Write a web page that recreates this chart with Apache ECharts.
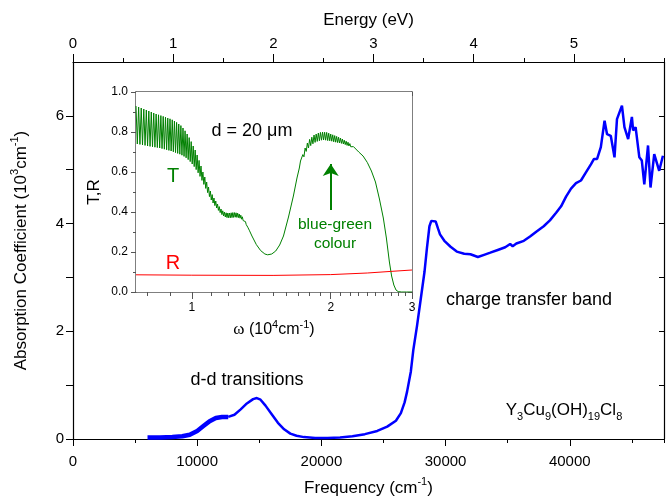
<!DOCTYPE html>
<html>
<head>
<meta charset="utf-8">
<script src="https://cdn.jsdelivr.net/npm/echarts@6.0.0/dist/echarts.min.js"></script>
<style>
html, body { margin: 0; padding: 0; background: #fff; }
#chart { width: 670px; height: 499px; }
</style>
</head>
<body>
<div id="chart"></div>
<script>
// absorption coefficient: [frequency (cm-1), alpha (10^3 cm-1)]
var absorption = [
	[6000, 0.03], [7000, 0.03], [8000, 0.035], [8800, 0.05], [9400, 0.08], [10000, 0.15],
	[10500, 0.24], [11000, 0.33], [11500, 0.39], [12000, 0.41], [12500, 0.41], [13000, 0.45],
	[13500, 0.55], [14000, 0.66], [14500, 0.74], [14800, 0.76], [15100, 0.73], [15500, 0.62],
	[16000, 0.46], [16500, 0.30], [17000, 0.18], [17500, 0.10], [18000, 0.06], [18600, 0.035],
	[19500, 0.02], [20500, 0.02], [21500, 0.03], [22500, 0.05], [23500, 0.09], [24500, 0.15],
	[25300, 0.23], [26000, 0.34], [26400, 0.48], [26700, 0.68], [26900, 0.88], [27200, 1.25],
	[27400, 1.65], [27700, 2.1], [28000, 2.6], [28300, 3.1], [28500, 3.55], [28700, 3.95],
	[28850, 4.05], [29000, 4.07], [29200, 4.04], [29400, 3.9], [29550, 3.8], [29900, 3.68],
	[30400, 3.57], [30900, 3.48], [31500, 3.44], [32000, 3.43], [32600, 3.38], [33100, 3.42],
	[33600, 3.46], [34200, 3.51], [34800, 3.56], [35200, 3.62], [35400, 3.58], [35700, 3.63],
	[36300, 3.68], [36800, 3.76], [37300, 3.85], [37900, 3.95], [38400, 4.06], [38900, 4.2],
	[39300, 4.32], [39700, 4.5], [40100, 4.65], [40500, 4.75], [40900, 4.8], [41300, 4.95],
	[41700, 5.1], [41950, 5.2], [42200, 5.2], [42500, 5.42], [42800, 5.91], [43000, 5.66],
	[43300, 5.63], [43600, 5.23], [43800, 5.94], [44200, 6.19], [44400, 5.79], [44700, 5.57],
	[45000, 5.98], [45100, 5.73], [45300, 5.79], [45600, 5.23], [45800, 5.17], [46000, 4.73],
	[46300, 5.45], [46500, 4.67], [46800, 5.29], [47200, 4.98], [47500, 5.26]
];
var thickUntil = 12500; // noisy low-frequency part drawn thicker

// inset transmission T: [omega (10^4 cm-1), T]
var transmission = [
	[0.757, .93], [0.762, .74], [0.767, .925], [0.772, .738], [0.777, .92], [0.782, .735],
	[0.787, .915], [0.792, .733], [0.797, .91], [0.802, .73], [0.807, .905], [0.812, .728],
	[0.817, .90], [0.822, .726], [0.827, .895], [0.832, .724], [0.837, .89], [0.842, .722],
	[0.847, .886], [0.852, .72], [0.857, .882], [0.862, .717], [0.867, .878], [0.872, .714],
	[0.877, .874], [0.882, .711], [0.887, .87], [0.892, .708], [0.897, .866], [0.902, .705],
	[0.907, .861], [0.912, .701], [0.917, .855], [0.922, .697], [0.927, .848], [0.932, .693],
	[0.937, .84], [0.942, .689], [0.947, .832], [0.952, .684], [0.957, .82], [0.962, .678],
	[0.967, .806], [0.972, .671], [0.977, .79], [0.982, .662], [0.987, .772], [0.992, .652],
	[0.997, .752], [1.002, .64], [1.007, .73], [1.012, .627], [1.017, .71], [1.022, .612],
	[1.027, .685], [1.032, .596], [1.037, .658], [1.042, .578], [1.047, .63], [1.052, .558],
	[1.057, .60], [1.062, .538], [1.067, .575], [1.072, .518], [1.077, .55], [1.082, .497],
	[1.087, .525], [1.092, .477], [1.097, .505], [1.102, .46], [1.107, .487], [1.112, .445],
	[1.117, .47], [1.122, .432], [1.127, .455], [1.132, .42], [1.137, .44], [1.142, .408],
	[1.147, .427], [1.152, .397], [1.157, .415], [1.162, .387], [1.167, .406], [1.172, .38],
	[1.177, .40], [1.182, .375], [1.187, .396], [1.192, .372], [1.197, .395], [1.202, .371],
	[1.207, .395], [1.212, .371], [1.217, .396], [1.222, .372], [1.227, .397], [1.232, .373],
	[1.237, .397], [1.242, .374], [1.247, .396], [1.252, .373], [1.257, .394], [1.262, .372],
	[1.267, .39], [1.272, .369], [1.277, .384], [1.282, .364], [1.287, .376], [1.292, .357],
	[1.297, .365], [1.302, .348], [1.307, .352], [1.312, .337], [1.317, .337], [1.322, .324],
	[1.327, .32], [1.332, .309],
	[1.35, .28], [1.38, .237], [1.41, .207], [1.44, .19], [1.46, .186], [1.49, .19],
	[1.52, .205], [1.55, .235], [1.58, .28], [1.62, .375], [1.66, .48], [1.69, .57], [1.71, .62],
	[1.72, .655], [1.73, .649], [1.74, .687], [1.75, .676], [1.76, .72], [1.77, .703],
	[1.78, .745], [1.79, .72], [1.80, .763], [1.81, .732], [1.82, .774], [1.83, .741],
	[1.84, .785], [1.85, .748], [1.86, .79], [1.87, .753], [1.88, .795], [1.89, .756],
	[1.90, .798], [1.91, .759], [1.92, .80], [1.93, .76], [1.94, .799], [1.95, .759],
	[1.96, .798], [1.97, .757], [1.98, .794], [1.99, .756], [2.00, .79], [2.01, .754],
	[2.02, .786], [2.03, .751], [2.04, .782], [2.05, .749], [2.06, .778], [2.07, .747],
	[2.08, .774], [2.09, .745], [2.10, .77], [2.11, .743], [2.12, .765], [2.13, .74],
	[2.14, .759], [2.15, .737], [2.16, .754], [2.17, .733], [2.18, .749], [2.19, .73],
	[2.20, .742], [2.21, .726], [2.22, .735], [2.23, .722], [2.24, .727], [2.25, .72],
	[2.30, .70], [2.35, .68], [2.40, .648], [2.45, .605], [2.50, .55], [2.55, .465],
	[2.60, .37], [2.64, .27], [2.68, .15], [2.71, .08], [2.74, .035], [2.77, .01],
	[2.80, .002], [2.85, 0], [2.92, 0], [3.0, 0]
];

// inset reflection R: [omega (10^4 cm-1), R]
var reflection = [
	[0.757, .086], [1.0, .084], [1.5, .083], [2.0, .087], [2.4, .095], [2.7, .103], [3.0, .11]
];

var freqMax = 47586;   // 5.9 eV
var energyMax = 5.9;
var omegaMin = 0.757;
var omegaMax = 3;
var insetMajorTicks = [1, 2, 3];
var insetMinorTicks = [0.8, 0.9, 1, 1.1, 1.2, 1.3, 1.4, 1.5, 1.6, 1.7, 1.8, 1.9, 2,
	2.1, 2.2, 2.3, 2.4, 2.5, 2.6, 2.7, 2.8, 2.9, 3];

var FONT = '"Liberation Sans", Arial, sans-serif';
var BLACK = '#000';
var INSET = '#555';

var supRich = {
	sup: { fontSize: 11, lineHeight: 12, verticalAlign: 'top', fontFamily: FONT, color: BLACK },
	sub: { fontSize: 11, lineHeight: 15, verticalAlign: 'bottom', fontFamily: FONT, color: BLACK },
	w: { fontSize: 17, lineHeight: 22, fontFamily: '"Liberation Serif", serif', color: BLACK }
};

function lg(v) { return Math.log(v) / Math.LN10; }

function mainLine(color) {
	return { show: true, onZero: false, lineStyle: { color: color, width: 1.2 } };
}

function plain(v) { return String(v); }

var chart = echarts.init(document.getElementById('chart'), null, { renderer: 'canvas' });

var option = {
	backgroundColor: '#fff',
	animation: false,
	textStyle: { fontFamily: FONT },
	grid: [
		{ left: 73, right: 6, top: 62, bottom: 60, containLabel: false, outerBoundsMode: 'none' },
		{
			left: 136, width: 276, top: 92, height: 200, containLabel: false, outerBoundsMode: 'none',
			show: true, backgroundColor: '#fff', borderWidth: 0, z: 5
		}
	],
	xAxis: [
		{
			gridIndex: 0, type: 'value', position: 'bottom', min: 0, max: freqMax, interval: 10000,
			axisLine: mainLine(BLACK),
			axisTick: { length: 7, lineStyle: { color: BLACK } },
			axisLabel: { margin: 15, fontSize: 15, color: BLACK, showMaxLabel: false, formatter: plain },
			splitLine: { show: false },
			name: 'Frequency (cm{sup|-1})', nameLocation: 'middle', nameGap: 37,
			nameTextStyle: { fontSize: 17, color: BLACK, lineHeight: 24, rich: supRich }
		},
		{
			gridIndex: 0, type: 'value', position: 'bottom', min: 0, max: freqMax, interval: 5000,
			axisLine: { show: false, onZero: false },
			axisTick: { length: 4, lineStyle: { color: BLACK } },
			axisLabel: { show: false }, splitLine: { show: false }
		},
		{
			gridIndex: 0, type: 'value', position: 'top', min: 0, max: energyMax, interval: 1,
			axisLine: mainLine(BLACK),
			axisTick: { length: 8, lineStyle: { color: BLACK } },
			axisLabel: { margin: 11, fontSize: 15, color: BLACK, showMaxLabel: false, formatter: plain },
			splitLine: { show: false },
			name: 'Energy (eV)', nameLocation: 'middle', nameGap: 33,
			nameTextStyle: { fontSize: 17, color: BLACK }
		},
		{
			gridIndex: 0, type: 'value', position: 'top', min: 0, max: energyMax, interval: 0.5,
			axisLine: { show: false, onZero: false },
			axisTick: { length: 4, lineStyle: { color: BLACK } },
			axisLabel: { show: false }, splitLine: { show: false }
		},
		{
			gridIndex: 1, type: 'log', min: omegaMin, max: omegaMax, show: false,
			axisLine: { onZero: false }, splitLine: { show: false }
		},
		{
			gridIndex: 1, type: 'value', position: 'bottom', min: lg(omegaMin), max: lg(omegaMax),
			axisLine: { show: true, onZero: false, lineStyle: { color: INSET, width: 1.5 } },
			axisTick: { length: 4, customValues: insetMinorTicks.map(lg), lineStyle: { color: INSET } },
			axisLabel: {
				margin: 10, fontSize: 12, color: BLACK, customValues: insetMajorTicks.map(lg),
				formatter: function (v) { return String(Math.round(Math.pow(10, v))); }
			},
			splitLine: { show: false },
			name: '{w|ω} (10{sup|4}cm{sup|-1})', nameLocation: 'middle', nameGap: 27,
			nameTextStyle: { fontSize: 16, color: BLACK, lineHeight: 22, rich: supRich }
		},
		{
			gridIndex: 1, type: 'value', position: 'bottom', min: lg(omegaMin), max: lg(omegaMax),
			axisLine: { show: false, onZero: false },
			axisTick: { length: 7, customValues: insetMajorTicks.map(lg), lineStyle: { color: INSET } },
			axisLabel: { show: false }, splitLine: { show: false }
		},
		{
			gridIndex: 1, type: 'value', position: 'top', min: lg(omegaMin), max: lg(omegaMax),
			axisLine: { show: true, onZero: false, lineStyle: { color: INSET, width: 1.5 } },
			axisTick: { inside: true, length: 4, customValues: insetMinorTicks.map(lg), lineStyle: { color: INSET } },
			axisLabel: { show: false }, splitLine: { show: false }
		}
	],
	yAxis: [
		{
			gridIndex: 0, type: 'value', position: 'left', min: 0, max: 7, interval: 1,
			axisLine: mainLine(BLACK),
			axisTick: { length: 7, lineStyle: { color: BLACK } },
			axisLabel: {
				margin: 9, fontSize: 15, color: BLACK, showMaxLabel: false,
				formatter: function (v) { return v % 2 === 0 ? String(v) : ''; }
			},
			splitLine: { show: false },
			name: 'Absorption Coefficient (10{sup|3}cm{sup|-1})', nameLocation: 'middle', nameGap: 40,
			nameTextStyle: { fontSize: 17, color: BLACK, lineHeight: 24, rich: supRich }
		},
		{
			gridIndex: 0, type: 'value', position: 'right', min: 0, max: 7, interval: 1,
			axisLine: mainLine(BLACK),
			axisTick: { inside: true, length: 5, lineStyle: { color: BLACK } },
			axisLabel: { show: false }, splitLine: { show: false }
		},
		{
			gridIndex: 1, type: 'value', position: 'left', min: 0, max: 1, interval: 0.2,
			axisLine: { show: true, onZero: false, lineStyle: { color: INSET, width: 1.5 } },
			axisTick: { length: 5, lineStyle: { color: INSET } },
			minorTick: { show: true, splitNumber: 2, length: 3, lineStyle: { color: INSET } },
			axisLabel: {
				margin: 8, fontSize: 12, color: BLACK,
				formatter: function (v) { return v.toFixed(1); }
			},
			splitLine: { show: false }, minorSplitLine: { show: false },
			name: 'T,R', nameLocation: 'middle', nameGap: 33,
			nameTextStyle: { fontSize: 17, color: BLACK }
		},
		{
			gridIndex: 1, type: 'value', position: 'right', min: 0, max: 1, interval: 0.1,
			axisLine: { show: true, onZero: false, lineStyle: { color: INSET, width: 1.5 } },
			axisTick: { inside: true, length: 4, lineStyle: { color: INSET } },
			axisLabel: { show: false }, splitLine: { show: false }
		}
	],
	series: [
		{
			type: 'line', xAxisIndex: 0, yAxisIndex: 0, symbol: 'none', silent: true,
			data: absorption.filter(function (p) { return p[0] <= thickUntil; }),
			lineStyle: { color: '#0000ff', width: 4.5 }, itemStyle: { color: '#0000ff' }
		},
		{
			type: 'line', xAxisIndex: 0, yAxisIndex: 0, symbol: 'none', silent: true,
			data: absorption.filter(function (p) { return p[0] >= thickUntil; }),
			lineStyle: { color: '#0000ff', width: 2.5 }, itemStyle: { color: '#0000ff' }
		},
		{
			type: 'line', xAxisIndex: 4, yAxisIndex: 2, symbol: 'none', silent: true, z: 6,
			data: transmission,
			lineStyle: { color: '#008000', width: 1 }, itemStyle: { color: '#008000' },
			markLine: {
				silent: true, symbol: ['none', 'arrow'], symbolSize: 12,
				lineStyle: { color: '#008000', width: 2, type: 'solid' },
				itemStyle: { color: '#008000' },
				label: { show: false },
				data: [[{ coord: [2.0, 0.41] }, { coord: [2.0, 0.64] }]]
			}
		},
		{
			type: 'line', xAxisIndex: 4, yAxisIndex: 2, symbol: 'none', silent: true, z: 6,
			data: reflection,
			lineStyle: { color: '#ff0000', width: 1 }, itemStyle: { color: '#ff0000' }
		}
	],
	graphic: [
		{ type: 'text', x: 252, y: 131, z: 100, style: { text: 'd = 20 μm', fontSize: 18, fontFamily: FONT, fill: BLACK, align: 'center', verticalAlign: 'middle' } },
		{ type: 'text', x: 173, y: 176, z: 100, style: { text: 'T', fontSize: 20, fontFamily: FONT, fill: '#008000', align: 'center', verticalAlign: 'middle' } },
		{ type: 'text', x: 173, y: 263, z: 100, style: { text: 'R', fontSize: 20, fontFamily: FONT, fill: '#ff0000', align: 'center', verticalAlign: 'middle' } },
		{ type: 'text', x: 335, y: 234, z: 100, style: { text: 'blue-green\ncolour', fontSize: 15.5, lineHeight: 19, fontFamily: FONT, fill: '#008000', align: 'center', verticalAlign: 'middle' } },
		{ type: 'text', x: 529, y: 300, z: 100, style: { text: 'charge transfer band', fontSize: 18, fontFamily: FONT, fill: BLACK, align: 'center', verticalAlign: 'middle' } },
		{ type: 'text', x: 247, y: 380, z: 100, style: { text: 'd-d transitions', fontSize: 18, fontFamily: FONT, fill: BLACK, align: 'center', verticalAlign: 'middle' } },
		{
			type: 'text', x: 564, y: 410, z: 100,
			style: {
				text: 'Y{sub|3}Cu{sub|9}(OH){sub|19}Cl{sub|8}', fontSize: 17, lineHeight: 24, fontFamily: FONT,
				fill: BLACK, align: 'center', verticalAlign: 'middle',
				rich: {
					sub: { fontSize: 11, lineHeight: 15, verticalAlign: 'bottom', fontFamily: FONT, fill: BLACK }
				}
			}
		}
	]
};

chart.setOption(option);
</script>
</body>
</html>
